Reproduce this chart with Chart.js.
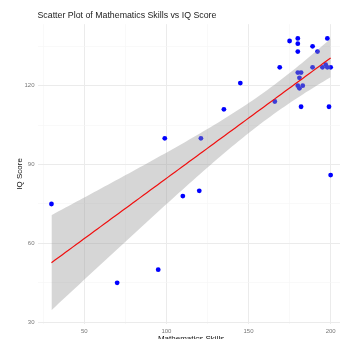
<!DOCTYPE html>
<html>
<head>
<meta charset="utf-8">
<script src="https://cdn.jsdelivr.net/npm/chart.js@4.4.0/dist/chart.umd.min.js"></script>
<style>
  html, body { margin: 0; padding: 0; background: #fff; overflow: hidden; }
  #wrap { width: 350px; height: 346px; }
</style>
</head>
<body>
<div id="wrap"><canvas id="chart" width="350" height="346"></canvas></div>
<script>
const chartTitle = 'Scatter Plot of Mathematics Skills vs IQ Score';

const mathSkills = [30, 70, 95, 99, 121, 110, 120, 135, 145, 166, 169, 175, 180, 180, 180, 189,
    192, 198, 180, 182, 181, 180, 183, 181, 182, 199, 200, 189, 195, 197, 198, 200];
const iqScores = [75, 45, 50, 100, 100, 78, 80, 111, 121, 114, 127, 137, 138, 136, 133, 135,
    133, 138, 125, 125, 123, 120, 120, 119, 112, 112, 86, 127, 127, 128, 127, 127];

const xTicks = [25, 50, 75, 100, 125, 150, 175, 200];
const xLabels = [50, 100, 150, 200];
const yTicks = [30, 45, 60, 75, 90, 105, 120, 135];
const yLabels = [30, 60, 90, 120];

// linear fit with 95% band, like geom_smooth(method = "lm")
const n = mathSkills.length;
const xMean = mathSkills.reduce((a, b) => a + b, 0) / n;
const yMean = iqScores.reduce((a, b) => a + b, 0) / n;
let sxx = 0, sxy = 0;
for (let i = 0; i < n; i++) {
    sxx += (mathSkills[i] - xMean) ** 2;
    sxy += (mathSkills[i] - xMean) * (iqScores[i] - yMean);
}
const slope = sxy / sxx;
const intercept = yMean - slope * xMean;
let sse = 0;
for (let i = 0; i < n; i++) {
    sse += (iqScores[i] - (intercept + slope * mathSkills[i])) ** 2;
}
const sigma = Math.sqrt(sse / (n - 2));
const tCrit = 2.042; // t(0.975, df = 30)

const xLo = Math.min(...mathSkills);
const xHi = Math.max(...mathSkills);
const fitLine = [], bandUpper = [], bandLower = [];
for (let i = 0; i < 80; i++) {
    const x = xLo + (xHi - xLo) * i / 79;
    const yHat = intercept + slope * x;
    const half = tCrit * sigma * Math.sqrt(1 / n + (x - xMean) ** 2 / sxx);
    fitLine.push({ x: x, y: yHat });
    bandUpper.push({ x: x, y: yHat + half });
    bandLower.push({ x: x, y: yHat - half });
}

const points = mathSkills.map((x, i) => ({ x: x, y: iqScores[i] }));

const fontFamily = '"Liberation Sans", Arial, sans-serif';

const titlePlugin = {
    id: 'plotTitle',
    afterDraw(chart) {
        const ctx = chart.ctx;
        ctx.save();
        ctx.font = '8.8px ' + fontFamily;
        ctx.fillStyle = '#222';
        ctx.textBaseline = 'alphabetic';
        ctx.fillText(chartTitle, chart.chartArea.left, 18);
        ctx.restore();
    }
};

function gridColor(list) {
    return (c) => list.includes(c.tick.value) ? '#ebebeb' : '#f5f5f5';
}
function gridWidth(list) {
    return (c) => list.includes(c.tick.value) ? 1 : 0.6;
}

new Chart(document.getElementById('chart'), {
    type: 'scatter',
    data: {
        datasets: [{
            type: 'line',
            data: fitLine,
            borderColor: '#f01010',
            borderWidth: 1.2,
            pointRadius: 0,
            fill: false,
            order: 0
        }, {
            type: 'line',
            data: bandUpper,
            borderWidth: 0,
            borderColor: 'rgba(0,0,0,0)',
            pointRadius: 0,
            backgroundColor: 'rgba(153,153,153,0.4)',
            fill: '+1',
            order: 1
        }, {
            type: 'line',
            data: bandLower,
            borderWidth: 0,
            borderColor: 'rgba(0,0,0,0)',
            pointRadius: 0,
            fill: false,
            order: 2
        }, {
            data: points,
            pointRadius: 2.4,
            pointBackgroundColor: '#0000ff',
            pointBorderWidth: 0,
            order: 3
        }]
    },
    options: {
        responsive: false,
        animation: false,
        layout: { padding: { left: 0, right: 5.4, top: 24.2, bottom: 0 } },
        plugins: {
            legend: { display: false },
            tooltip: { enabled: false }
        },
        scales: {
            x: {
                type: 'linear',
                min: 21.5,
                max: 208.5,
                afterBuildTicks: (s) => { s.ticks = xTicks.map(v => ({ value: v })); },
                afterFit: (s) => { s.height = 22.4; },
                border: { display: false },
                grid: { color: gridColor(xLabels), lineWidth: gridWidth(xLabels), drawTicks: false },
                ticks: {
                    autoSkip: false,
                    maxRotation: 0,
                    padding: 4,
                    color: '#777',
                    font: { size: 6, family: fontFamily },
                    callback: (v) => xLabels.includes(v) ? String(v) : ''
                },
                title: {
                    display: true,
                    text: 'Mathematics Skills',
                    color: '#111',
                    font: { size: 8, family: fontFamily },
                    padding: { top: 0, bottom: 2.7 }
                }
            },
            y: {
                type: 'linear',
                min: 29.5,
                max: 143.4,
                afterBuildTicks: (s) => { s.ticks = yTicks.map(v => ({ value: v })); },
                afterFit: (s) => { s.width = 37.5; },
                border: { display: false },
                grid: { color: gridColor(yLabels), lineWidth: gridWidth(yLabels), drawTicks: false },
                ticks: {
                    autoSkip: false,
                    padding: 3,
                    color: '#777',
                    font: { size: 6, family: fontFamily },
                    callback: (v) => yLabels.includes(v) ? String(v) : ''
                },
                title: {
                    display: true,
                    text: 'IQ Score',
                    color: '#111',
                    font: { size: 8, family: fontFamily },
                    padding: { top: 15.2, bottom: 0 }
                }
            }
        }
    },
    plugins: [titlePlugin]
});
</script>
</body>
</html>
